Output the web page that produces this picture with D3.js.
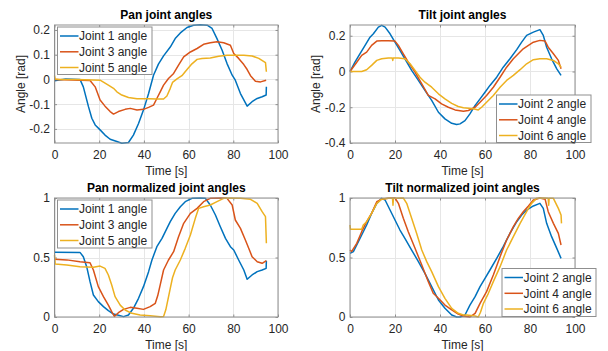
<!DOCTYPE html>
<html>
<head>
<meta charset="utf-8">
<script src="https://cdn.jsdelivr.net/npm/d3@7"></script>
<style>
  html, body { margin: 0; padding: 0; background: #fff; }
  svg { display: block; font-family: "Liberation Sans", Arial, Helvetica, sans-serif; }
</style>
</head>
<body>
<svg id="chart" width="608" height="351"></svg>
<script>
// ---------------- DATA ----------------
const xTicks = [0, 20, 40, 60, 80, 100];
const xTickLabels = ["0", "20", "40", "60", "80", "100"];
const panTicks = [-0.2, -0.1, 0, 0.1, 0.2];
const panTickLabels = ["-0.2", "-0.1", "0", "0.1", "0.2"];
const tiltTicks = [-0.4, -0.2, 0, 0.2];
const tiltTickLabels = ["-0.4", "-0.2", "0", "0.2"];
const normTicks = [0, 0.5, 1];
const normTickLabels = ["0", "0.5", "1"];
const titles = ["Pan joint angles", "Tilt joint angles", "Pan normalized joint angles", "Tilt normalized joint angles"];
const panNames = ["Joint 1 angle", "Joint 3 angle", "Joint 5 angle"];
const tiltNames = ["Joint 2 angle", "Joint 4 angle", "Joint 6 angle"];
const xLabel = "Time [s]";
const yLabel = "Angle [rad]";

// Pan joint angles [rad]
const j1T = [0, 5, 11.4, 12.9, 15.2, 16.7, 18.2, 20.4, 22.6, 24.9, 27.9, 30.1, 33.1, 35.3, 37.6, 39.8, 42.1, 44.3, 46.5, 48.8, 51.8, 54, 56.3, 59.3, 62.2, 65.2, 68.3, 70.5, 72.7, 75, 77.2, 79.5, 80.9, 83.2, 86.2, 88.4, 90.7, 92.9, 94.7, 94.8];
const j1V = [-0.005, 0.002, 0, -0.03, -0.11, -0.157, -0.184, -0.204, -0.225, -0.242, -0.251, -0.258, -0.255, -0.225, -0.178, -0.124, -0.057, 0.017, 0.062, 0.095, 0.131, 0.165, 0.188, 0.21, 0.219, 0.221, 0.219, 0.206, 0.165, 0.118, 0.064, 0.017, -0.003, -0.057, -0.108, -0.09, -0.077, -0.07, -0.063, -0.03];
const j3T = [0, 8, 15.9, 18.2, 20.4, 22.6, 24.9, 26.4, 28.6, 31.6, 33.9, 36.9, 39.8, 42.1, 44.3, 45.8, 47.3, 48.8, 51, 53.3, 55.5, 57.8, 60.8, 63.8, 66.7, 69.7, 72.7, 75.7, 78.7, 80.2, 82.4, 84.7, 86.2, 87.7, 89.9, 92.2, 94.7];
const j3V = [0, -0.002, -0.004, -0.03, -0.083, -0.108, -0.13, -0.14, -0.13, -0.121, -0.117, -0.124, -0.121, -0.113, -0.104, -0.077, -0.05, -0.023, 0.004, 0.024, 0.058, 0.091, 0.111, 0.125, 0.142, 0.148, 0.152, 0.148, 0.138, 0.105, 0.085, 0.06, 0.04, 0.015, -0.007, -0.01, -0.003];
const j5T = [0, 0.3, 2, 10, 20.4, 24.1, 26.4, 27.9, 30.1, 33.1, 36.9, 42, 45.8, 48.8, 50.3, 51.8, 52.8, 54.8, 57, 59.3, 61.5, 63.8, 66, 69.7, 73.5, 77.2, 81, 84.7, 88.4, 91.4, 94.4, 94.8];
const j5V = [0.015, 0.002, 0, 0, -0.003, -0.023, -0.036, -0.05, -0.063, -0.073, -0.078, -0.078, -0.079, -0.079, -0.067, -0.036, -0.012, 0.002, 0.015, 0.04, 0.063, 0.081, 0.085, 0.087, 0.094, 0.098, 0.098, 0.098, 0.095, 0.085, 0.068, 0.031];

// Tilt joint angles [rad]
const j2T = [0, 2.2, 4.4, 6.7, 8.9, 10.4, 12.6, 14.1, 15.6, 17.8, 20, 22.2, 24.4, 27.4, 30.4, 33.3, 36.3, 39.3, 42.2, 45.2, 47.4, 48.9, 51.1, 53.3, 55.6, 57.8, 60, 62.2, 65.2, 68.1, 71.1, 74.1, 76.3, 78.5, 81.5, 84.4, 85.9, 87.4, 89.6, 91.9, 93.8];
const j2V = [0, 0.052, 0.099, 0.146, 0.192, 0.211, 0.248, 0.258, 0.248, 0.211, 0.164, 0.118, 0.071, 0.006, -0.05, -0.106, -0.162, -0.228, -0.265, -0.29, -0.297, -0.293, -0.275, -0.237, -0.19, -0.153, -0.116, -0.078, -0.032, 0.024, 0.071, 0.122, 0.164, 0.202, 0.22, 0.234, 0.202, 0.136, 0.071, 0.015, -0.022];
const j4T = [0, 3, 5.2, 7.4, 9.6, 11.9, 14.1, 17, 20, 21.5, 23.7, 25.9, 28.9, 31.9, 34.8, 37.8, 40.7, 43.7, 46.7, 50.4, 52.6, 55.6, 57.8, 60.7, 63.7, 66.7, 69.6, 72.6, 74.8, 77, 79.3, 81.5, 84.4, 86.7, 88.1, 90.4, 92.6, 93.8];
const j4V = [0, 0.052, 0.09, 0.108, 0.146, 0.17, 0.172, 0.172, 0.17, 0.146, 0.099, 0.052, -0.004, -0.069, -0.134, -0.153, -0.181, -0.2, -0.215, -0.222, -0.218, -0.2, -0.172, -0.134, -0.088, -0.032, 0.024, 0.071, 0.099, 0.127, 0.146, 0.164, 0.174, 0.17, 0.136, 0.099, 0.062, 0.015];
const j6T = [0, 5.2, 7.4, 9.6, 11.9, 14.1, 17, 18.8, 19, 19.2, 21.5, 24.4, 26.7, 28.9, 31.1, 33.3, 36.3, 39.3, 42.2, 45.2, 48.1, 50.4, 54.8, 57, 58.5, 60.7, 63.7, 66.7, 69.6, 72.6, 75.6, 78.5, 81.5, 84.4, 87.4, 90.4, 92.6, 93.8];
const j6V = [0, 0, 0.01, 0.034, 0.062, 0.071, 0.075, 0.075, 0.062, 0.075, 0.075, 0.071, 0.043, 0.006, -0.032, -0.06, -0.088, -0.125, -0.153, -0.178, -0.196, -0.203, -0.209, -0.215, -0.2, -0.172, -0.134, -0.088, -0.05, -0.022, 0.01, 0.043, 0.066, 0.071, 0.071, 0.062, 0.043, 0.024];

// Pan normalized joint angles
const n1T = [0, 11.4, 12.9, 14.4, 15.9, 17.4, 19.6, 21.9, 24.1, 26.4, 28.6, 30.9, 33.1, 35.3, 37.6, 39.8, 42.1, 43.6, 45.8, 48.1, 50.3, 51.8, 54, 56.3, 58.5, 61.5, 65.2, 67.5, 69.7, 72, 74.2, 76.5, 78.7, 80.2, 82.4, 84.7, 86.2, 88.4, 90.7, 92.9, 94.7, 94.8];
const n1V = [0.545, 0.543, 0.507, 0.423, 0.297, 0.185, 0.129, 0.087, 0.053, 0.025, 0.014, 0.003, 0.017, 0.073, 0.157, 0.255, 0.381, 0.479, 0.591, 0.661, 0.745, 0.801, 0.871, 0.927, 0.969, 0.997, 1, 0.997, 0.941, 0.857, 0.759, 0.661, 0.591, 0.563, 0.479, 0.395, 0.317, 0.353, 0.381, 0.395, 0.409, 0.473];
const n3T = [0, 5.5, 11.4, 15.9, 17.4, 19.6, 21.9, 24.1, 25.6, 26.8, 28.6, 30.9, 33.9, 36.9, 39.8, 42.8, 45.1, 46.2, 47.3, 48.8, 51, 53.3, 55.5, 57.8, 60.8, 63.8, 66.7, 69.7, 74.2, 77.2, 79.5, 80.9, 83.2, 85.4, 86.9, 88.4, 90.7, 92.9, 94.8];
const n3V = [0.485, 0.48, 0.465, 0.456, 0.395, 0.255, 0.171, 0.1, 0.045, 0.005, 0.036, 0.064, 0.081, 0.073, 0.064, 0.087, 0.115, 0.18, 0.27, 0.395, 0.479, 0.549, 0.675, 0.787, 0.871, 0.913, 0.969, 0.997, 1, 0.997, 0.941, 0.815, 0.745, 0.647, 0.577, 0.507, 0.465, 0.451, 0.473];
const n5T = [0, 0.3, 5.5, 11.4, 17.4, 20.4, 22.6, 24.1, 25.6, 27.1, 29.4, 31.6, 34.6, 38.3, 42.8, 47.3, 48.8, 49.8, 50.8, 51.8, 52.8, 54, 56.3, 58.5, 60.8, 63, 64.5, 66.7, 69.7, 72.7, 75.7, 78.7, 83.2, 87.7, 90.7, 92.9, 94.4, 94.8];
const n5V = [0.52, 0.445, 0.437, 0.423, 0.418, 0.428, 0.409, 0.353, 0.269, 0.171, 0.1, 0.059, 0.031, 0.017, 0.01, 0.003, 0.005, 0.06, 0.15, 0.24, 0.33, 0.395, 0.479, 0.577, 0.689, 0.829, 0.913, 0.927, 0.941, 0.969, 0.997, 1, 0.997, 0.989, 0.955, 0.885, 0.843, 0.619];

// Tilt normalized joint angles
const n2T = [0, 1.5, 3, 5.2, 7.4, 9.6, 11.9, 14.1, 15.6, 17.8, 20, 22.2, 24.4, 27.4, 30.4, 33.3, 36.3, 39.3, 42.2, 45.2, 47.4, 48.9, 51.1, 53.3, 55.6, 57.8, 60, 62.2, 65.2, 68.1, 71.1, 74.1, 76.3, 78.5, 81.5, 84.4, 85.9, 87.4, 89.6, 91.9, 93.8];
const n2V = [0.535, 0.549, 0.605, 0.689, 0.773, 0.871, 0.955, 0.997, 0.983, 0.899, 0.815, 0.731, 0.661, 0.563, 0.465, 0.367, 0.255, 0.143, 0.073, 0.017, 0, 0, 0.017, 0.1, 0.171, 0.255, 0.325, 0.395, 0.493, 0.591, 0.703, 0.801, 0.857, 0.899, 0.933, 0.955, 0.913, 0.787, 0.675, 0.577, 0.493];
const n4T = [0, 0.7, 3, 5.2, 7.4, 9.6, 11.9, 14.1, 17, 20, 21.5, 23.7, 25.9, 28.9, 31.9, 34.8, 37, 39.3, 42.2, 45.2, 48.1, 50.4, 53.3, 55.6, 57.8, 60.7, 63.7, 66.7, 69.6, 72.6, 74.8, 77, 79.3, 81.5, 84.4, 86.7, 88.1, 90.4, 92.6, 93.8];
const n4V = [0.563, 0.55, 0.619, 0.717, 0.801, 0.871, 0.969, 0.99, 0.997, 1, 0.955, 0.829, 0.717, 0.577, 0.437, 0.297, 0.199, 0.157, 0.1, 0.059, 0.025, 0.008, 0, 0.031, 0.115, 0.213, 0.353, 0.507, 0.647, 0.759, 0.829, 0.885, 0.933, 0.983, 1, 0.99, 0.885, 0.787, 0.703, 0.605];
const n6T = [0, 0.2, 5.2, 5.9, 7.4, 9.6, 11.9, 14.1, 17, 18.9, 19.1, 19.3, 23.7, 25.2, 27.4, 29.6, 31.9, 34.1, 36.3, 39.3, 42.2, 45.2, 48.1, 50.4, 51.9, 55.6, 57, 58, 59.3, 61.5, 63.7, 66.7, 69.6, 72.6, 75.6, 78.5, 80.7, 82.9, 85.9, 88.1, 88.3, 88.5, 90.4, 92.6, 93.8, 94];
const n6V = [0.773, 0.737, 0.737, 0.773, 0.801, 0.871, 0.955, 0.99, 0.997, 0.997, 0.94, 0.997, 1, 0.955, 0.829, 0.703, 0.563, 0.465, 0.381, 0.255, 0.157, 0.073, 0.031, 0.017, 0.017, 0.008, 0, 0.04, 0.115, 0.199, 0.297, 0.423, 0.563, 0.675, 0.787, 0.885, 0.955, 0.997, 1, 0.997, 0.94, 0.997, 0.997, 0.913, 0.857, 0.787];

const colors = ["#0072BD", "#D95319", "#EDB120"];

// ---------------- LAYOUT ----------------
const panels = [
  { title: titles[0], x: [54.5, 278], y: [143, 25], dom: [-0.257, 0.22], ticks: panTicks, tickLabels: panTickLabels, ylab: true,
    series: [[j1T, j1V], [j3T, j3V], [j5T, j5V]], names: panNames, legend: [57.5, 27, 94.5, 47.5] },
  { title: titles[1], x: [350, 575], y: [143, 25], dom: [-0.4, 0.26], ticks: tiltTicks, tickLabels: tiltTickLabels, ylab: true,
    series: [[j2T, j2V], [j4T, j4V], [j6T, j6V]], names: tiltNames, legend: [496.5, 95, 94.5, 47.5] },
  { title: titles[2], x: [54.5, 278], y: [317, 198], dom: [0, 1], ticks: normTicks, tickLabels: normTickLabels, ylab: false,
    series: [[n1T, n1V], [n3T, n3V], [n5T, n5V]], names: panNames, legend: [57.5, 200, 94.5, 48] },
  { title: titles[3], x: [350, 575], y: [317, 198], dom: [0, 1], ticks: normTicks, tickLabels: normTickLabels, ylab: false,
    series: [[n2T, n2V], [n4T, n4V], [n6T, n6V]], names: tiltNames, legend: [502, 268.5, 94, 48] }
];

const svg = d3.select("#chart");
const textColor = "#262626";
const boxColor = "#8f8f8f";
const gridColor = "#e6e6e6";

panels.forEach(p => {
  const x = d3.scaleLinear().domain([0, 100]).range(p.x);
  const y = d3.scaleLinear().domain(p.dom).range(p.y);
  const g = svg.append("g");
  const top = p.y[1], bot = p.y[0], left = p.x[0], right = p.x[1];

  // grid
  g.selectAll(".gx").data(xTicks).enter().append("line")
    .attr("x1", d => Math.round(x(d)) + 0.5).attr("x2", d => Math.round(x(d)) + 0.5)
    .attr("y1", top).attr("y2", bot).attr("stroke", gridColor).attr("stroke-width", 1);
  g.selectAll(".gy").data(p.ticks).enter().append("line")
    .attr("y1", d => Math.round(y(d)) + 0.5).attr("y2", d => Math.round(y(d)) + 0.5)
    .attr("x1", left).attr("x2", right).attr("stroke", gridColor).attr("stroke-width", 1);

  // axes (labels & inward ticks)
  const xAxis = d3.axisBottom(x).tickValues(xTicks).tickFormat((d, i) => xTickLabels[i]).tickSize(-2.5).tickPadding(7.5);
  const xa = g.append("g").attr("transform", `translate(0,${bot})`).call(xAxis);
  const xAxisTop = d3.axisTop(x).tickValues(xTicks).tickFormat("").tickSize(-2.5);
  const xt = g.append("g").attr("transform", `translate(0,${top})`).call(xAxisTop);
  const yAxis = d3.axisLeft(y).tickValues(p.ticks).tickFormat((d, i) => p.tickLabels[i]).tickSize(-2.5).tickPadding(4.5);
  const ya = g.append("g").attr("transform", `translate(${left},0)`).call(yAxis);
  const yAxisR = d3.axisRight(y).tickValues(p.ticks).tickFormat("").tickSize(-2.5);
  const yr = g.append("g").attr("transform", `translate(${right},0)`).call(yAxisR);
  [xa, xt, ya, yr].forEach(a => {
    a.select(".domain").remove();
    a.selectAll(".tick line").attr("stroke", boxColor);
    a.selectAll("text").attr("fill", textColor).attr("font-size", 12)
      .attr("font-family", "'Liberation Sans', Arial, sans-serif");
  });

  // lines
  const line = d3.line().x(d => x(d[0])).y(d => y(d[1]));
  p.series.forEach((s, i) => {
    const pts = s[0].map((t, k) => [t, s[1][k]]);
    g.append("path").datum(pts).attr("d", line).attr("fill", "none")
      .attr("stroke", colors[i]).attr("stroke-width", 1.5).attr("stroke-linejoin", "round");
  });

  // box
  g.append("rect").attr("x", left).attr("y", top + 0.5 - 0.5).attr("width", right - left).attr("height", bot - top)
    .attr("fill", "none").attr("stroke", boxColor).attr("stroke-width", 1);

  // title
  g.append("text").attr("x", (left + right) / 2).attr("y", top - 6).attr("text-anchor", "middle")
    .attr("font-size", 12).attr("font-weight", "bold").attr("fill", "#000").text(p.title);
  // x label
  g.append("text").attr("x", (left + right) / 2).attr("y", bot + 31.5).attr("text-anchor", "middle")
    .attr("font-size", 12).attr("fill", textColor).text(xLabel);
  // y label
  if (p.ylab) {
    g.append("text").attr("transform", `translate(${left - 30},${(top + bot) / 2}) rotate(-90)`)
      .attr("text-anchor", "middle").attr("font-size", 12).attr("fill", textColor).text(yLabel);
  }

  // legend
  const [lx, ly, lw, lh] = p.legend;
  const lg = g.append("g");
  lg.append("rect").attr("x", lx).attr("y", ly).attr("width", lw).attr("height", lh)
    .attr("fill", "#fff").attr("stroke", boxColor).attr("stroke-width", 1);
  const rowOff = [9, 24.8, 40.5];
  p.names.forEach((n, i) => {
    const ry = ly + rowOff[i];
    lg.append("line").attr("x1", lx + 2.5).attr("x2", lx + 21).attr("y1", ry).attr("y2", ry)
      .attr("stroke", colors[i]).attr("stroke-width", 1.5);
    lg.append("text").attr("x", lx + 21.5).attr("y", ry).attr("dy", "0.35em")
      .attr("font-size", 12).attr("fill", textColor).text(n);
  });
});
</script>
</body>
</html>
